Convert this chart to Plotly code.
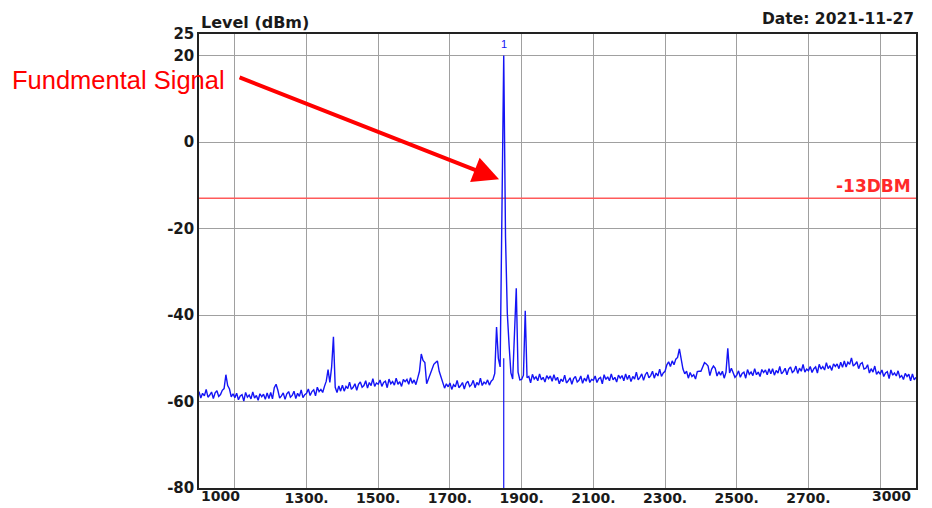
import numpy as np
import plotly.graph_objects as go

# ---- data ----
start_mhz = 1000
stop_mhz = 3000

levels_dbm = [
    # 1000-1095
    -57.7, -59.2, -58.1, -58.7, -57.2, -59.0, -58.5, -57.8, -59.3, -58.0,
    -57.5, -58.8, -58.4, -57.4, -57.0, -53.8, -56.3, -57.1, -58.9, -58.2,
    # 1100-1195
    -59.1, -58.1, -59.6, -58.7, -58.4, -59.9, -57.9, -59.0, -58.5, -59.4,
    -57.8, -59.2, -58.6, -59.7, -58.2, -58.9, -58.3, -59.5, -58.0, -59.3,
    # 1200-1295
    -57.9, -59.4, -56.8, -56.0, -57.4, -59.2, -58.7, -58.0, -59.5, -58.2,
    -57.7, -59.0, -58.6, -57.6, -59.3, -58.1, -58.8, -57.3, -59.1, -58.4,
    # 1300-1395
    -58.1, -57.1, -58.6, -57.7, -57.3, -58.7, -56.7, -57.7, -57.2, -57.9,
    -56.5, -55.3, -52.6, -55.6, -52.0, -45.0, -56.7, -57.9, -56.4, -57.6,
    # 1400-1495
    -56.2, -57.6, -56.5, -57.0, -55.5, -57.2, -56.7, -55.9, -57.4, -56.0,
    -55.5, -56.7, -56.3, -55.2, -56.9, -55.6, -56.3, -54.7, -56.5, -55.7,
    # 1500-1595
    -56.0, -55.0, -56.5, -55.6, -55.3, -56.8, -54.8, -55.9, -55.4, -56.2,
    -54.6, -56.0, -55.4, -56.5, -54.9, -55.4, -54.9, -56.0, -54.5, -55.8,
    # 1600-1695
    -55.0, -56.1, -54.6, -53.0, -49.0, -50.5, -51.0, -55.9, -54.8, -53.5,
    -52.5, -51.4, -51.0, -50.6, -53.0, -54.5, -55.7, -56.9, -55.9, -56.6,
    # 1700-1795
    -55.7, -57.2, -56.1, -56.6, -55.1, -56.8, -56.3, -55.6, -57.1, -55.8,
    -55.3, -56.5, -56.1, -55.1, -56.8, -55.6, -56.2, -54.6, -56.3, -55.5,
    # 1800-1895
    -55.9, -55.0, -56.2, -55.3, -54.9, -53.5, -42.8, -50.0, -52.0, -20.0,
    20.0, -22.0, -39.6, -47.0, -53.4, -54.8, -44.6, -33.8, -53.2, -55.0,
    # 1900-1995
    -54.9, -53.9, -39.0, -54.5, -54.2, -55.7, -53.7, -54.8, -54.3, -55.2,
    -53.6, -55.0, -54.4, -55.5, -54.0, -54.7, -54.1, -55.3, -53.8, -55.1,
    # 2000-2095
    -54.4, -55.9, -54.8, -55.4, -53.9, -55.7, -55.2, -54.5, -56.0, -54.7,
    -54.2, -55.5, -55.1, -54.1, -55.8, -54.6, -55.3, -53.8, -55.6, -54.9,
    # 2100-2195
    -55.1, -54.1, -55.6, -54.7, -54.4, -55.9, -53.8, -54.9, -54.3, -55.2,
    -53.6, -55.0, -54.4, -55.5, -53.9, -54.6, -54.0, -55.2, -53.6, -54.9,
    # 2200-2295
    -53.9, -55.4, -54.2, -54.8, -53.2, -55.0, -54.4, -53.6, -55.1, -53.8,
    -53.2, -54.5, -54.0, -53.0, -54.6, -53.4, -54.1, -52.5, -54.2, -53.4,
    # 2300-2395
    -53.0, -51.5, -50.8, -51.9, -50.6, -51.5, -50.2, -49.8, -47.8, -50.5,
    -52.5, -53.6, -53.0, -54.6, -53.3, -54.2, -53.8, -54.8, -53.1, -53.0,
    # 2400-2495
    -53.0, -52.0, -51.0, -51.3, -51.8, -54.0, -52.5, -51.8, -52.3, -54.1,
    -53.1, -53.9, -53.0, -54.6, -53.2, -47.7, -53.4, -52.3, -53.6, -54.4,
    # 2500-2595
    -53.9, -52.9, -54.4, -53.5, -53.2, -54.6, -52.6, -53.7, -53.2, -54.0,
    -52.4, -53.8, -53.2, -54.2, -52.6, -53.3, -52.7, -53.8, -52.4, -53.6,
    # 2600-2695
    -52.4, -53.9, -52.8, -53.4, -51.9, -53.6, -53.1, -52.3, -53.8, -52.5,
    -52.0, -53.3, -52.9, -51.8, -53.5, -52.3, -53.0, -51.4, -53.2, -52.5,
    # 2700-2795
    -52.9, -51.9, -53.3, -52.4, -52.0, -53.4, -51.4, -52.5, -51.9, -52.7,
    -51.0, -52.4, -51.7, -52.8, -51.3, -51.9, -51.3, -52.4, -50.9, -52.1,
    # 2800-2895
    -50.6, -52.0, -50.9, -51.4, -49.9, -51.8, -51.4, -50.8, -52.4, -51.3,
    -51.0, -52.5, -52.3, -51.5, -53.4, -52.4, -53.2, -51.8, -53.7, -53.1,
    # 2900-3000
    -53.6, -52.7, -54.2, -53.4, -53.1, -54.7, -52.7, -53.9, -53.4, -54.1,
    -52.9, -54.4, -54.0, -54.9, -53.5, -54.2, -53.7, -55.2, -53.6, -55.0,
    -54.4,
]

freqs_mhz = np.linspace(start_mhz, stop_mhz, len(levels_dbm))

limit_dbm = -13
marker_freq = 1850
marker_level = 20.0

y_ticks = [25, 20, 0, -20, -40, -60, -80]
y_labels = ["25", "20", "0", "-20", "-40", "-60", "-80"]
x_grid = [1100, 1300, 1500, 1700, 1900, 2100, 2300, 2500, 2700, 2900]
x_labels = ["", "1300.", "1500.", "1700.", "1900.", "2100.", "2300.", "2500.", "2700.", ""]

BOLD = "DejaVu Sans, Verdana, sans-serif"
PLAIN = "Liberation Sans, Arial, sans-serif"

fig = go.Figure()

# limit line
fig.add_trace(go.Scatter(
    x=[start_mhz, stop_mhz], y=[limit_dbm, limit_dbm], mode="lines",
    line=dict(color="#ff5a5a", width=1.4), hoverinfo="skip", showlegend=False))

# marker line down to the bottom
fig.add_trace(go.Scatter(
    x=[marker_freq, marker_freq], y=[-80, -50], mode="lines",
    line=dict(color="#1414f5", width=1.2), hoverinfo="skip", showlegend=False))

# spectrum trace
fig.add_trace(go.Scatter(
    x=freqs_mhz, y=levels_dbm, mode="lines",
    line=dict(color="#1414f5", width=1.4), showlegend=False))

ytick_font = dict(family=BOLD, size=15, color="#1a1a1a", weight="bold")
xtick_font = dict(family=BOLD, size=14, color="#1a1a1a", weight="bold")

fig.update_xaxes(
    range=[start_mhz, stop_mhz], tickvals=x_grid, ticktext=x_labels,
    showgrid=True, gridcolor="#a0a0a0", gridwidth=1, zeroline=False,
    showline=True, mirror=True, linecolor="#222222", linewidth=1.5,
    ticks="", tickfont=xtick_font, automargin=False, ticklabelstandoff=-4)
fig.update_yaxes(
    range=[-80, 25], tickvals=y_ticks, ticktext=y_labels,
    showgrid=True, gridcolor="#a0a0a0", gridwidth=1, zeroline=False,
    showline=True, mirror=True, linecolor="#222222", linewidth=1.5,
    ticks="", tickfont=ytick_font, automargin=False)

annotations = [
    dict(text="1000", x=start_mhz, xref="x", y=0, yref="paper", xanchor="left",
         yanchor="top", yshift=2, showarrow=False, font=xtick_font),
    dict(text="3000", x=stop_mhz, xref="x", y=0, yref="paper", xanchor="right",
         yanchor="top", yshift=2, xshift=-3, showarrow=False, font=xtick_font),
    dict(text="Level (dBm)", x=0, xref="paper", y=1, yref="paper", xanchor="left",
         yanchor="bottom", yshift=0, showarrow=False,
         font=dict(family=BOLD, size=16, color="#1a1a1a", weight="bold")),
    dict(text="Date: 2021-11-27", x=1, xref="paper", y=1, yref="paper", xanchor="right",
         yanchor="bottom", yshift=4, showarrow=False,
         font=dict(family=BOLD, size=15.5, color="#1a1a1a", weight="bold")),
    dict(text="-13DBM", x=stop_mhz, xref="x", y=limit_dbm, yref="y", xanchor="right",
         yanchor="bottom", xshift=-3, yshift=0, showarrow=False,
         font=dict(family=BOLD, size=17, color="#ff2a2a", weight="bold")),
    dict(text="1", x=marker_freq, xref="x", y=marker_level + 2.6, yref="y",
         xanchor="center", yanchor="middle", showarrow=False,
         font=dict(family=PLAIN, size=11, color="#1414f5")),
    dict(text="Fundmental Signal", x=-0.2636, xref="paper", y=0.898, yref="paper",
         xanchor="left", yanchor="middle", showarrow=False,
         font=dict(family=PLAIN, size=25.5, color="#ff0000")),
    dict(text="", x=1837, xref="x", y=-8.6, yref="y", ax=1109, axref="x", ay=15.1,
         ayref="y", showarrow=True, arrowhead=2, arrowsize=1.3, arrowwidth=4,
         arrowcolor="#ff0000", standoff=0, startstandoff=0),
]

# page body has an 8px default margin: figure is sized to sit inside the window
fig.update_layout(
    width=924, height=500,
    margin=dict(l=191, r=16, t=26, b=20),
    paper_bgcolor="white", plot_bgcolor="white",
    annotations=annotations, showlegend=False,
)

fig.write_html("out.html")
